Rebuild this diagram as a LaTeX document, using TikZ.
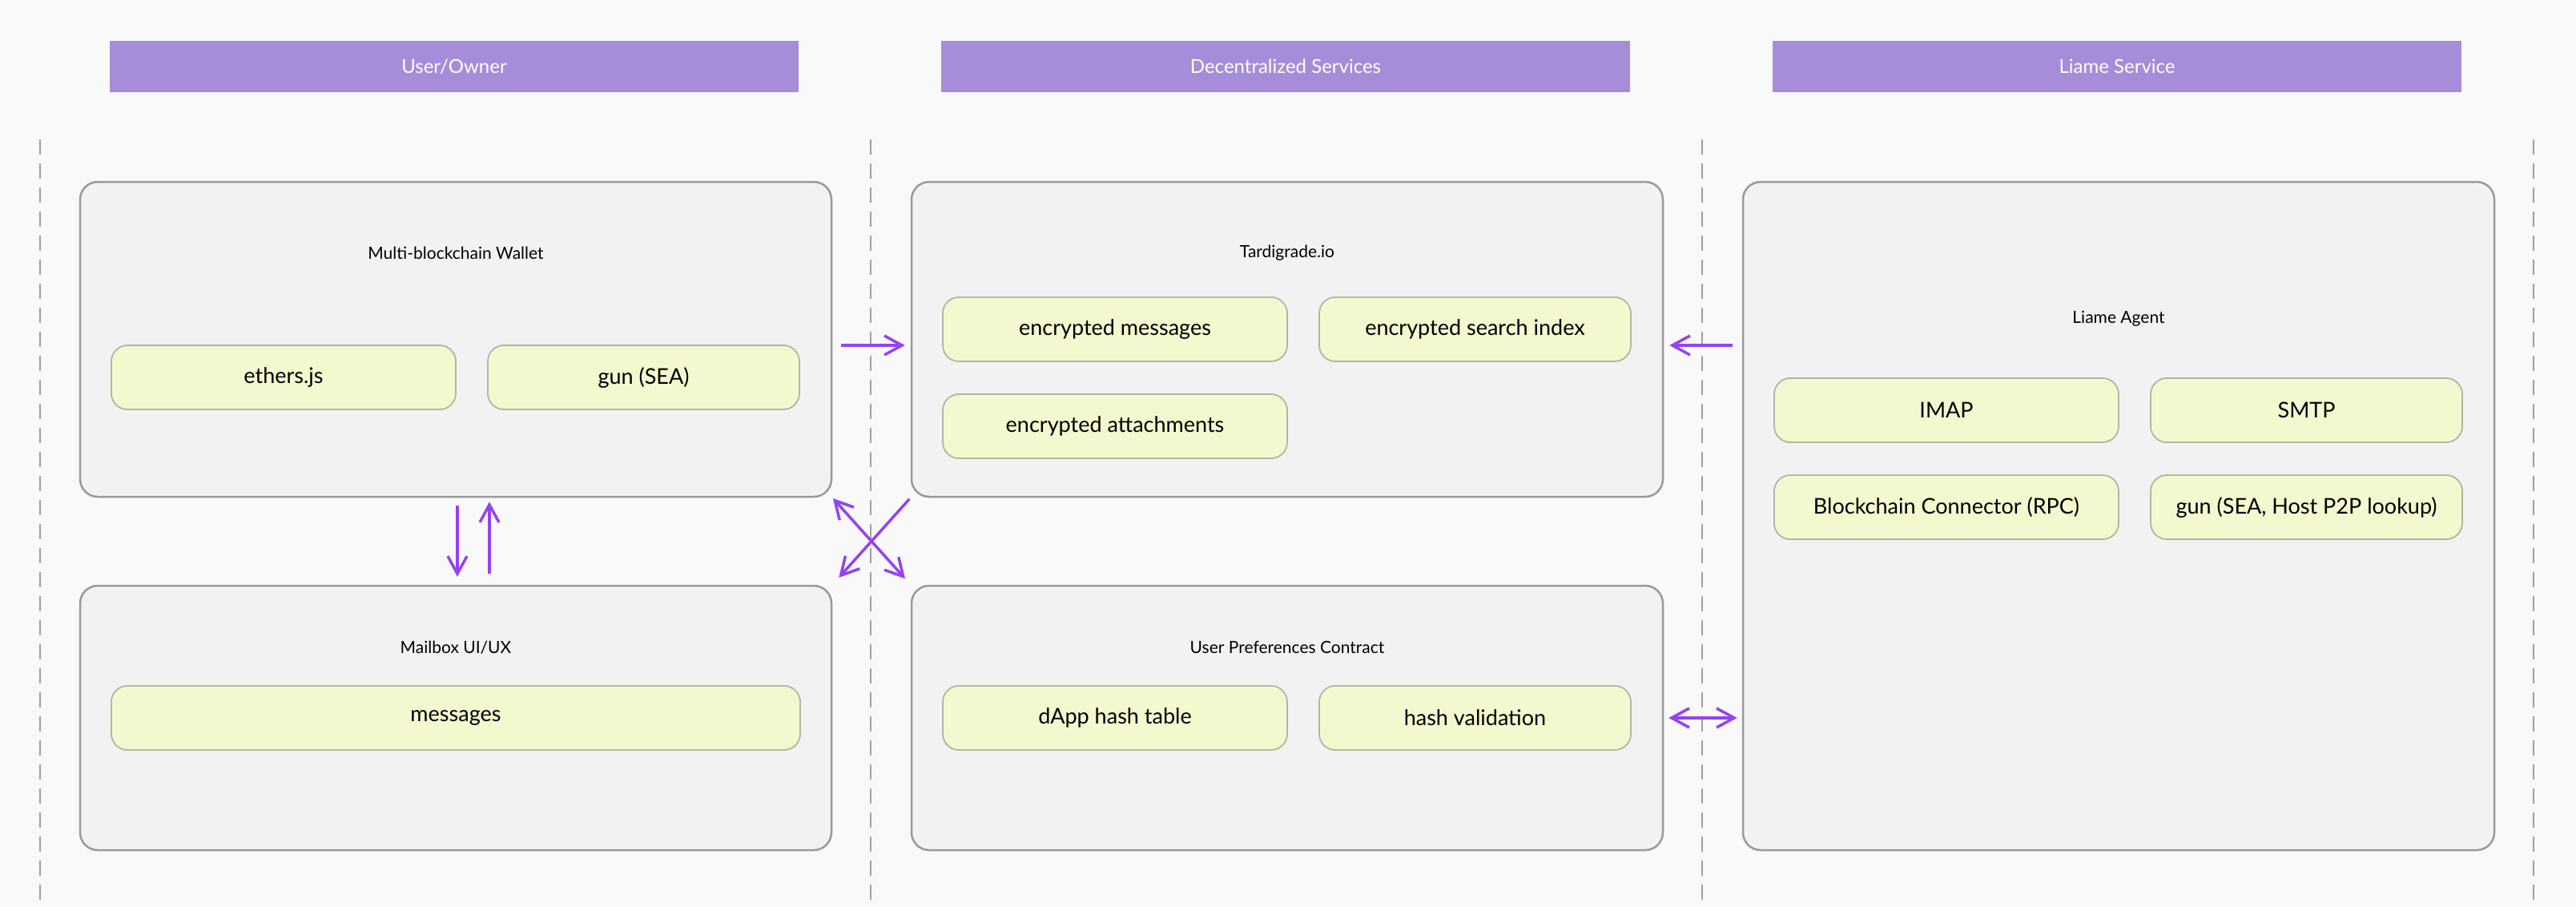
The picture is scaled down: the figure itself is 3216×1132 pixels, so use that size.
\documentclass[tikz,border=0pt]{standalone}
\usepackage{fontspec}
\setmainfont{Lato}
\usetikzlibrary{arrows.meta,calc}

\definecolor{bgcol}{HTML}{F9F9F9}
\definecolor{headcol}{HTML}{A78CD9}
\definecolor{boxfill}{HTML}{F2F2F2}
\definecolor{boxline}{HTML}{9A9A9A}
\definecolor{itemfill}{HTML}{F4F8CE}
\definecolor{itemline}{HTML}{B4B5A4}
\definecolor{linkcol}{HTML}{9443F2}
\definecolor{lanecol}{HTML}{A0A0A0}

\begin{document}
\begin{tikzpicture}[x=1pt,y=-1pt,
    header/.style={fill=headcol, text=white, minimum width=860pt, minimum height=64pt, font=\fontsize{24}{28}\selectfont},
    outer/.style={draw=boxline, fill=boxfill, line width=2.5pt, rounded corners=22pt},
    item/.style={draw=itemline, fill=itemfill, line width=1.8pt, rounded corners=20pt, minimum height=80pt, font=\fontsize{27}{32}\selectfont},
    boxtitle/.style={font=\fontsize{21}{25}\selectfont},
    link/.style={draw=linkcol, line width=3.5pt, -{Straight Barb[length=22pt,width=24pt]}},
    biglink/.style={draw=linkcol, line width=3.5pt, {Straight Barb[length=22pt,width=24pt]}-{Straight Barb[length=22pt,width=24pt]}}]

    % Background
    \fill[bgcol] (0,0) rectangle (3216,1132);
    \useasboundingbox (0,0) rectangle (3216,1132);

    % Lanes
    \foreach \x in {50,1087,2125,3163}
        \draw[lanecol, line width=1.8pt, dash pattern=on 19pt off 11pt] (\x,174) -- (\x,1132);

    % Headers
    \node[header] (userH) at (567,83) {User/Owner};
    \node[header] (decH) at (1605,83) {Decentralized Services};
    \node[header] (liameH) at (2643,83) {Liame Service};

    % Multi-blockchain Wallet
    \node[outer, minimum width=938pt, minimum height=393pt] (wallet) at (569,423.5) {};
    \node[boxtitle] (walletT) at (569,316) {Multi-blockchain Wallet};
    \node[item, minimum width=430pt] (ethers) at (354,471) {ethers.js};
    \node[item, minimum width=389pt] (gunsea) at (803.5,471) {gun (SEA)};

    % Mailbox UI/UX
    \node[outer, minimum width=938pt, minimum height=330pt] (mailbox) at (569,896) {};
    \node[boxtitle] (mailboxT) at (569,808) {Mailbox UI/UX};
    \node[item, minimum width=860pt] (msgs) at (569,896) {messages};

    % Tardigrade.io
    \node[outer, minimum width=938pt, minimum height=393pt] (tard) at (1607,423.5) {};
    \node[boxtitle] (tardT) at (1607,316) {Tardigrade.io};
    \node[item, minimum width=430pt] (encmsg) at (1392,411) {encrypted messages};
    \node[item, minimum width=389pt] (encidx) at (1841.5,411) {encrypted search index};
    \node[item, minimum width=430pt] (encatt) at (1392,532) {encrypted attachments};

    % User Preferences Contract
    \node[outer, minimum width=938pt, minimum height=330pt] (prefs) at (1607,896) {};
    \node[boxtitle] (prefsT) at (1607,808) {User Preferences Contract};
    \node[item, minimum width=430pt] (hashtab) at (1392,896) {dApp hash table};
    \node[item, minimum width=389pt] (hashval) at (1841.5,896) {hash validation};

    % Liame Agent
    \node[outer, minimum width=938pt, minimum height=834pt] (liame) at (2645,644) {};
    \node[boxtitle] (liameT) at (2645,398) {Liame Agent};
    \node[item, minimum width=430pt] (imap) at (2430,512) {IMAP};
    \node[item, minimum width=389pt] (smtp) at (2879.5,512) {SMTP};
    \node[item, minimum width=430pt] (rpc) at (2430,633) {Blockchain Connector (RPC)};
    \node[item, minimum width=389pt] (gunp2p) at (2879.5,633) {gun (SEA, Host P2P lookup)};

    % Arrows
    \draw[link, shorten <=11pt, shorten >=7pt] ($(wallet.east)+(0,7.5)$) -- ($(tard.west)+(0,7.5)$);
    \draw[link, shorten <=12pt, shorten >=7pt] ($(tard.east -| liame.west)+(0,7.5)$) -- ($(tard.east)+(0,7.5)$);
    \draw[biglink, shorten <=6pt, shorten >=6pt] (prefs.east) -- (prefs.east -| liame.west);
    \draw[link, shorten <=10pt, shorten >=10pt] ($(wallet.south)+(2,0)$) -- ($(mailbox.north)+(2,0)$);
    \draw[link, shorten <=14pt, shorten >=5pt] ($(mailbox.north)+(42,0)$) -- ($(wallet.south)+(42,0)$);
    \draw[link, shorten <=2pt, shorten >=12pt] (tard.south west) -- (mailbox.north east);
    \draw[biglink, shorten <=1pt, shorten >=10pt] (wallet.south east) -- (prefs.north west);
\end{tikzpicture}
\end{document}
